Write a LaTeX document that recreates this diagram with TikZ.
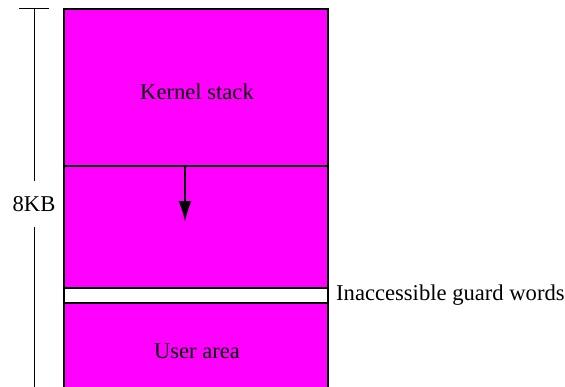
\documentclass[tikz,border=0pt]{standalone}
\usepackage{fontspec}
\setmainfont{Liberation Serif}
\usetikzlibrary{positioning,arrows.meta}
\definecolor{stackmag}{RGB}{255,0,255}
\begin{document}
\begin{tikzpicture}[
    x=1pt, y=-1pt,
    node distance=0pt,
    font=\fontsize{22.6}{26}\selectfont,
    area/.style={draw, line width=1.2pt, fill=stackmag, minimum width=264pt, inner sep=0pt, outer sep=0pt},
    guard/.style={area, fill=white, minimum height=15pt},
  ]
  \useasboundingbox (0,0) rectangle (565,386);
  % memory layout
  \node[area, minimum height=157pt, anchor=north west] (kstack) at (64,9) {};
  \node[area, minimum height=122pt, below=of kstack] (kfree) {};
  \node[guard, below=of kfree] (gw) {};
  \node[area, minimum height=95pt, below=of gw] (user) {};
  \node (klabel) at (197,92) {Kernel stack};
  \node (ulabel) at (197,351) {User area};
  \node[inner sep=0pt, right=8pt of gw.east] (glabel) {Inaccessible guard words};
  % stack growth
  \coordinate (tip) at (185,222);
  \draw[-{Latex[length=21pt,width=13pt]}, line width=2pt] (kstack.south -| tip) -- (tip);
  % size
  \coordinate (dimtop) at (34,8);
  \coordinate (dimbot) at (34,392);
  \node[minimum height=46pt, inner sep=0pt] (size) at (34,204) {8KB};
  \draw[line width=1pt] (19,8) -- (49,8);
  \draw[line width=1pt] (dimtop) -- (size.north);
  \draw[line width=1pt] (size.south) -- (dimbot);
\end{tikzpicture}
\end{document}
